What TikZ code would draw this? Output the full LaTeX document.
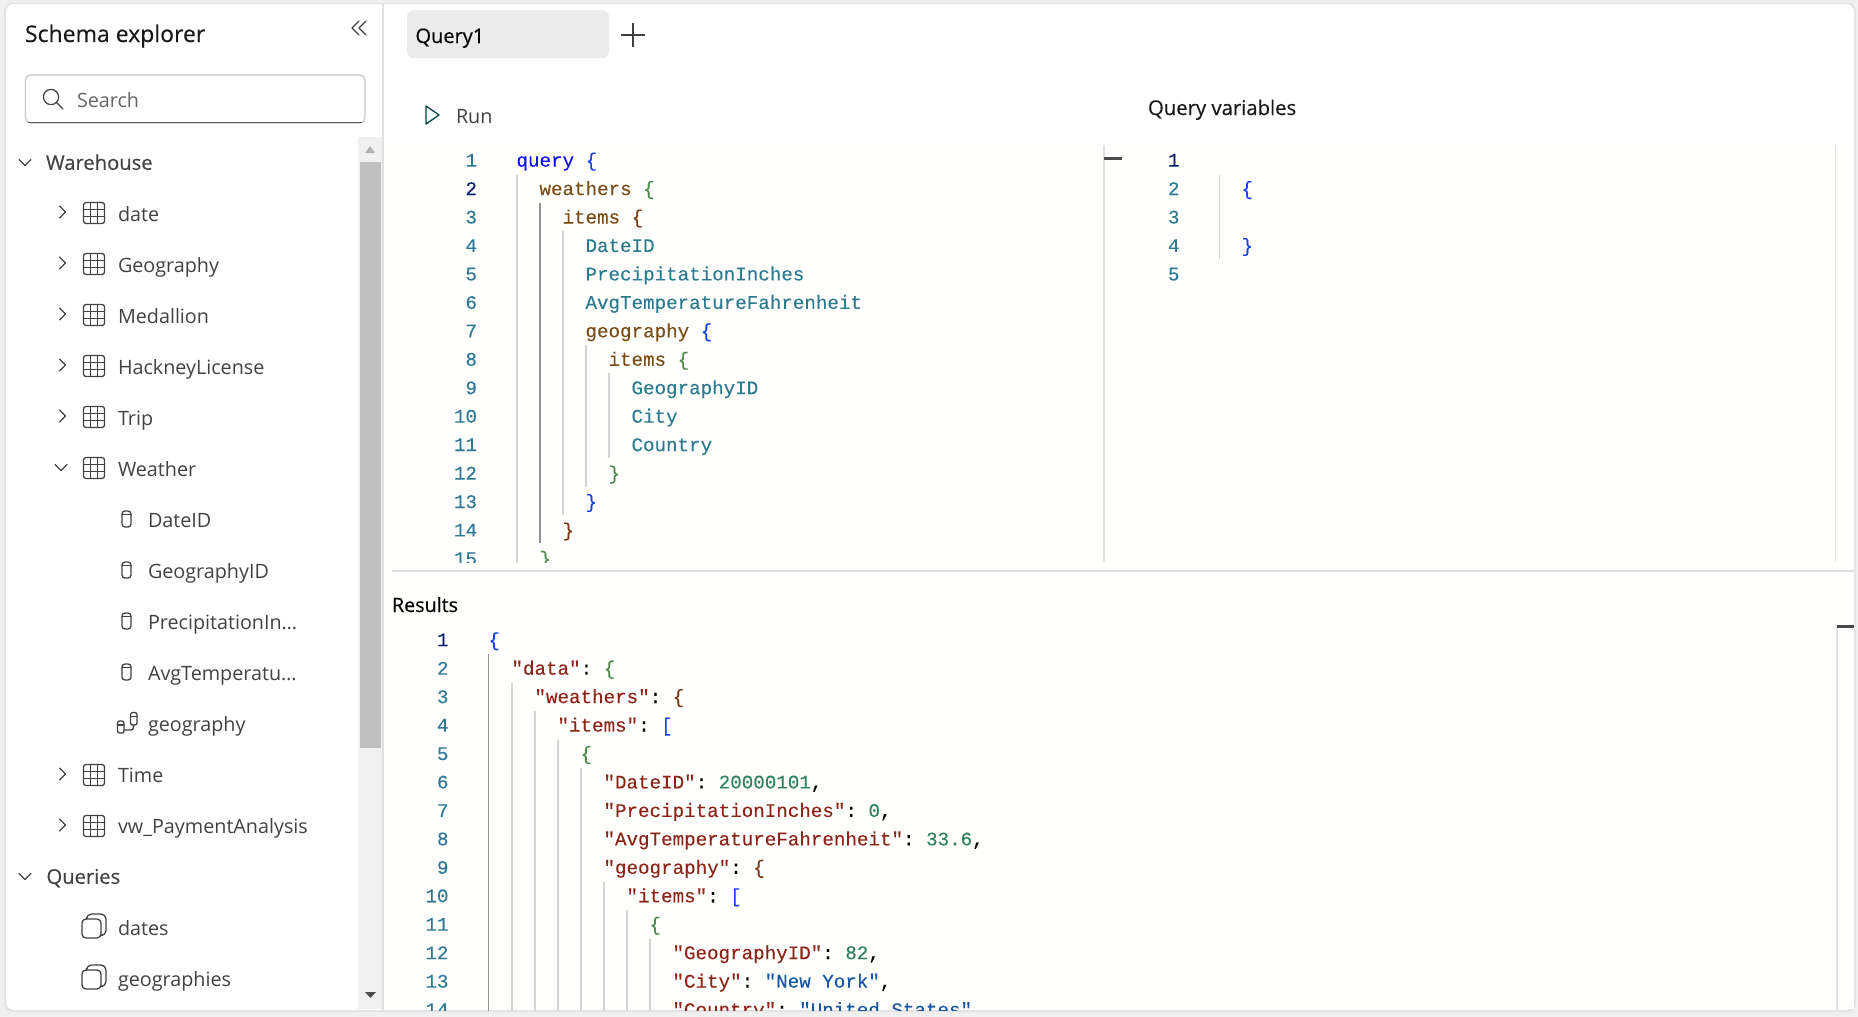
\documentclass[tikz,border=0pt]{standalone}
\usepackage{fontspec}
\setmainfont{Open Sans}
\setmonofont{Liberation Mono}[FakeBold=0.12]
\newfontfamily\semib{Open Sans}[FakeBold=0.35]
\definecolor{kwblue}{HTML}{1010F5}
\definecolor{brblue}{HTML}{1A3FF0}
\definecolor{brgreen}{HTML}{4A8A4A}
\definecolor{brbrown}{HTML}{7B3814}
\definecolor{fnbrown}{HTML}{7A4C16}
\definecolor{fieldteal}{HTML}{2B7A8E}
\definecolor{linum}{HTML}{2E7896}
\definecolor{linumact}{HTML}{0B216F}
\definecolor{jkey}{HTML}{8C2418}
\definecolor{jnum}{HTML}{2F8062}
\definecolor{jstr}{HTML}{1A55A0}
\definecolor{uitext}{HTML}{424242}
\definecolor{iconc}{HTML}{424242}
\definecolor{guide}{HTML}{D4D4D4}
\definecolor{guideact}{HTML}{939393}
\definecolor{rulec}{HTML}{E0E0E0}
\tikzset{
  uibase/.style={inner sep=0pt,outer sep=0pt,anchor=base west,text=uitext,font=\fontsize{19.75}{24}\selectfont},
  treehead/.style={uibase,font=\semib\fontsize{20.2}{24}\selectfont},
  title/.style={inner sep=0pt,outer sep=0pt,anchor=base west,text=black!90,font=\semib\fontsize{20}{24}\selectfont},
  monotxt/.style={inner sep=0pt,outer sep=0pt,anchor=base west,font=\ttfamily\fontsize{19.2}{24}\selectfont},
  numtxt/.style={inner sep=0pt,outer sep=0pt,anchor=base east,text=linum,font=\ttfamily\fontsize{19.2}{24}\selectfont},
  icon/.style={draw=iconc,line width=1.3pt,line join=round,line cap=round},
  chev/.style={draw=iconc,line width=1.2pt,line join=round,line cap=round},
  guideline/.style={draw=guide,line width=1.2pt},
  guideactive/.style={draw=guideact,line width=1.4pt},
  sep/.style={draw=rulec,line width=1.3pt},
}
\newcommand{\kc}[2]{\textcolor{#1}{#2}}
\newcommand{\tree}[5]{\node[#1] (#2) at (#3,#4+7.3) {#5};}
\newcommand{\qline}[4]{\pgfmathsetmacro{\yy}{160+28.45*(#3-1)}\node[monotxt] (#1) at (#2,\yy+6.6) {#4};}
\newcommand{\rline}[4]{\pgfmathsetmacro{\yy}{640+28.45*(#3-1)}\node[monotxt] (#1) at (#2,\yy+6.2) {#4};}
\newcommand{\tableicon}[2]{\begin{scope}[shift={(#1,#2)}]
  \draw[icon,rounded corners=2.5] (-10.5,-10.5) rectangle (10.5,10.5);
  \draw[icon] (-3.5,-10.5)--(-3.5,10.5) (3.5,-10.5)--(3.5,10.5) (-10.5,-3.5)--(10.5,-3.5) (-10.5,3.5)--(10.5,3.5);
\end{scope}}
\newcommand{\colicon}[2]{\begin{scope}[shift={(#1,#2)}]
  \draw[icon,rounded corners=3] (-4.5,-8) rectangle (4.5,8);
  \draw[icon] (-4.5,-4.5)--(4.5,-4.5);
\end{scope}}
\newcommand{\queryicon}[2]{\begin{scope}[shift={(#1,#2)}]
  \draw[icon,rounded corners=4] (-12,-9) rectangle (7,10);
  \draw[icon,rounded corners=5] (-7.5,-10.5)--(-7.5,-14)--(12,-14)--(12,7.5)--(8.5,7.5);
\end{scope}}
\newcommand{\chevright}[2]{\draw[chev] (#1-2.5,#2-6)--(#1+3.5,#2)--(#1-2.5,#2+6);}
\newcommand{\chevdown}[2]{\draw[chev] (#1-6,#2-2.5)--(#1,#2+3.5)--(#1+6,#2-2.5);}
\begin{document}
\begin{tikzpicture}[x=1pt,y=-1pt]
\useasboundingbox (0,0) rectangle (1858,1017);
% page and card
\fill[white!94!black] (0,0) rectangle (1858,1017);
\fill[black!11,rounded corners=9] (4,2.5) rectangle (1856,1012);
\fill[white,rounded corners=8] (6,4) rectangle (1854,1010);
\fill[white!99.5!yellow] (384,145) rectangle (1854,1009);
% schema explorer panel
\fill[black!6] (358,137) rectangle (383,1009);
\fill[black!25] (360,162) rectangle (381,748);
\fill[black!30] (365,153)--(375,153)--(370,146)--cycle;
\fill[black!70] (365,992)--(376,992)--(370.5,998)--cycle;
\draw[sep] (383,4)--(383,1010);
\node[title,font=\semib\fontsize{23}{24}\selectfont] (schemaTitle) at (25,42) {Schema explorer};
\draw[chev,line width=1.1pt] (359,21)--(352,28)--(359,35) (366,21)--(359,28)--(366,35);
% search
\draw[draw=black!22,line width=1.2pt,rounded corners=5,fill=white] (25.5,75) rectangle (365,123);
\draw[draw=black!65,line width=1.4pt] (28,122.6)--(362,122.6);
\draw[icon,line width=1.2pt] (51,97) circle (7.6) (56.5,102.5)--(63,109);
\node[uibase,text=black!60] (searchBox) at (77,107) {Search};
% tree rows
\chevdown{25}{162}
\tree{treehead}{warehouse}{46}{162.5}{Warehouse}
\chevright{62}{212}\tableicon{94}{213}\tree{uibase}{tDate}{118}{214}{date}
\chevright{62}{263}\tableicon{94}{264}\tree{uibase}{tGeo}{118}{265}{Geography}
\chevright{62}{314}\tableicon{94}{315}\tree{uibase}{tMed}{118}{316}{Medallion}
\chevright{62}{365}\tableicon{94}{366}\tree{uibase}{tHack}{118}{367}{HackneyLicense}
\chevright{62}{416}\tableicon{94}{417}\tree{uibase}{tTrip}{118}{418}{Trip}
\chevdown{61}{467}\tableicon{94}{468}\tree{uibase}{tWeather}{118}{469}{Weather}
\colicon{126.5}{519}\tree{uibase}{cDate}{148}{520}{DateID}
\colicon{126.5}{570}\tree{uibase}{cGeo}{148}{571}{GeographyID}
\colicon{126.5}{621}\tree{uibase}{cPrec}{148}{622}{PrecipitationIn…}
\colicon{126.5}{672}\tree{uibase}{cAvg}{148}{673}{AvgTemperatu…}
\draw[icon,rounded corners=2.2] (117.5,721) rectangle (124,733);
\draw[icon] (117.5,725)--(124,725);
\draw[icon,rounded corners=2.2] (130.5,712.5) rectangle (137,725);
\draw[icon] (130.5,716.5)--(137,716.5);
\draw[icon,rounded corners=2.5] (124,730)--(133.5,730)--(133.5,725);
\tree{uibase}{cGeoRel}{148}{724}{geography}
\chevright{62}{774}\tableicon{94}{775}\tree{uibase}{tTime}{118}{775}{Time}
\chevright{62}{825}\tableicon{94}{826}\tree{uibase}{tVw}{118}{826}{vw\_PaymentAnalysis}
\chevdown{25}{876}\tree{treehead}{queries}{46.5}{876.5}{Queries}
\queryicon{94}{928}\tree{uibase}{qDates}{118}{928}{dates}
\queryicon{94}{979}\tree{uibase}{qGeos}{118}{979}{geographies}
% tab bar
\fill[black!8,rounded corners=7] (407,10) rectangle (609,58);
\node[title,font=\semib\fontsize{20}{24}\selectfont,text=black] (tabQuery) at (415.5,43) {Query1};
\draw[icon,line width=1.5pt,line cap=butt,draw=black!75] (621,35)--(645,35) (633,23)--(633,47);
% run
\draw[draw=black!50!teal,line width=1.3pt,line join=round] (426,106)--(439,115)--(426,124)--cycle;
\node[uibase] (runLabel) at (456,123) {Run};
\node[title,font=\semib\fontsize{20.3}{24}\selectfont] (varsTitle) at (1148,115) {Query variables};
% query editor
\begin{scope}
\clip (384,145) rectangle (1100,562);
\foreach \n in {1,3,4,5,6,7,8,9,10,11,12,13,14,15}{
  \pgfmathsetmacro{\yy}{160+28.45*(\n-1)}
  \node[numtxt] (qn\n) at (477,\yy+6.6) {\n};
}
\node[numtxt,text=linumact] (qn2) at (477,195.05) {2};
\draw[guideline] (517,175)--(517,563);
\draw[guideactive] (540,203)--(540,543);
\draw[guideline] (563,231)--(563,515);
\draw[guideline] (586,345)--(586,487);
\draw[guideline] (609,373)--(609,458);
\qline{q1}{516.5}{1}{\kc{kwblue}{query} \kc{brblue}{\{}}
\qline{q2}{539.5}{2}{\kc{fnbrown}{weathers} \kc{brgreen}{\{}}
\qline{q3}{562.5}{3}{\kc{fnbrown}{items} \kc{brbrown}{\{}}
\qline{q4}{585.5}{4}{\kc{fieldteal}{DateID}}
\qline{q5}{585.5}{5}{\kc{fieldteal}{PrecipitationInches}}
\qline{q6}{585.5}{6}{\kc{fieldteal}{AvgTemperatureFahrenheit}}
\qline{q7}{585.5}{7}{\kc{fnbrown}{geography} \kc{brblue}{\{}}
\qline{q8}{608.5}{8}{\kc{fnbrown}{items} \kc{brgreen}{\{}}
\qline{q9}{631.5}{9}{\kc{fieldteal}{GeographyID}}
\qline{q10}{631.5}{10}{\kc{fieldteal}{City}}
\qline{q11}{631.5}{11}{\kc{fieldteal}{Country}}
\qline{q12}{608.5}{12}{\kc{brgreen}{\}}}
\qline{q13}{585.5}{13}{\kc{brblue}{\}}}
\qline{q14}{562.5}{14}{\kc{brbrown}{\}}}
\qline{q15}{539.5}{15}{\kc{brgreen}{\}}}
\end{scope}
% variables editor
\draw[sep] (1104,145)--(1104,562);
\draw[sep] (1835.5,145)--(1835.5,562);
\fill[black!70] (1104,157) rectangle (1122,160);
\foreach \n in {2,3,4,5}{
  \pgfmathsetmacro{\yy}{160+28.45*(\n-1)}
  \node[numtxt] (vn\n) at (1179.5,\yy+6.6) {\n};
}
\node[numtxt,text=linumact] (vn1) at (1179.5,166.6) {1};
\draw[guideline] (1219.5,175)--(1219.5,259);
\qline{v2}{1241.5}{2}{\kc{brblue}{\{}}
\qline{v4}{1241.5}{4}{\kc{brblue}{\}}}
% divider and results
\draw[sep] (392,571)--(1854,571);
\node[title,font=\semib\fontsize{19.7}{24}\selectfont,text=black] (resultsTitle) at (392,612) {Results};
\draw[sep] (1837,625)--(1837,1010);
\fill[black!72] (1837,625) rectangle (1854,628);
\begin{scope}
\clip (384,625) rectangle (1830,1010);
\foreach \n in {2,...,14}{
  \pgfmathsetmacro{\yy}{640+28.45*(\n-1)}
  \node[numtxt] (rn\n) at (448.5,\yy+6.2) {\n};
}
\node[numtxt,text=linumact] (rn1) at (448.5,646.2) {1};
\draw[guideactive] (488.5,654)--(488.5,1012);
\draw[guideline] (512,683)--(512,1012);
\draw[guideline] (535,711)--(535,1012);
\draw[guideline] (558,740)--(558,1012);
\draw[guideline] (581,768)--(581,1012);
\draw[guideline] (604,882)--(604,1012);
\draw[guideline] (627,910)--(627,1012);
\draw[guideline] (650,939)--(650,1012);
\rline{r1}{488.5}{1}{\kc{brblue}{\{}}
\rline{r2}{511.5}{2}{\kc{jkey}{"data"}: \kc{brgreen}{\{}}
\rline{r3}{534.5}{3}{\kc{jkey}{"weathers"}: \kc{brbrown}{\{}}
\rline{r4}{557.5}{4}{\kc{jkey}{"items"}: \kc{brblue}{[}}
\rline{r5}{580.5}{5}{\kc{brgreen}{\{}}
\rline{r6}{603.5}{6}{\kc{jkey}{"DateID"}: \kc{jnum}{20000101},}
\rline{r7}{603.5}{7}{\kc{jkey}{"PrecipitationInches"}: \kc{jnum}{0},}
\rline{r8}{603.5}{8}{\kc{jkey}{"AvgTemperatureFahrenheit"}: \kc{jnum}{33.6},}
\rline{r9}{603.5}{9}{\kc{jkey}{"geography"}: \kc{brbrown}{\{}}
\rline{r10}{626.5}{10}{\kc{jkey}{"items"}: \kc{brblue}{[}}
\rline{r11}{649.5}{11}{\kc{brgreen}{\{}}
\rline{r12}{672.5}{12}{\kc{jkey}{"GeographyID"}: \kc{jnum}{82},}
\rline{r13}{672.5}{13}{\kc{jkey}{"City"}: \kc{jstr}{"New York"},}
\rline{r14}{672.5}{14}{\kc{jkey}{"Country"}: \kc{jstr}{"United States"}}
\end{scope}
\end{tikzpicture}
\end{document}
